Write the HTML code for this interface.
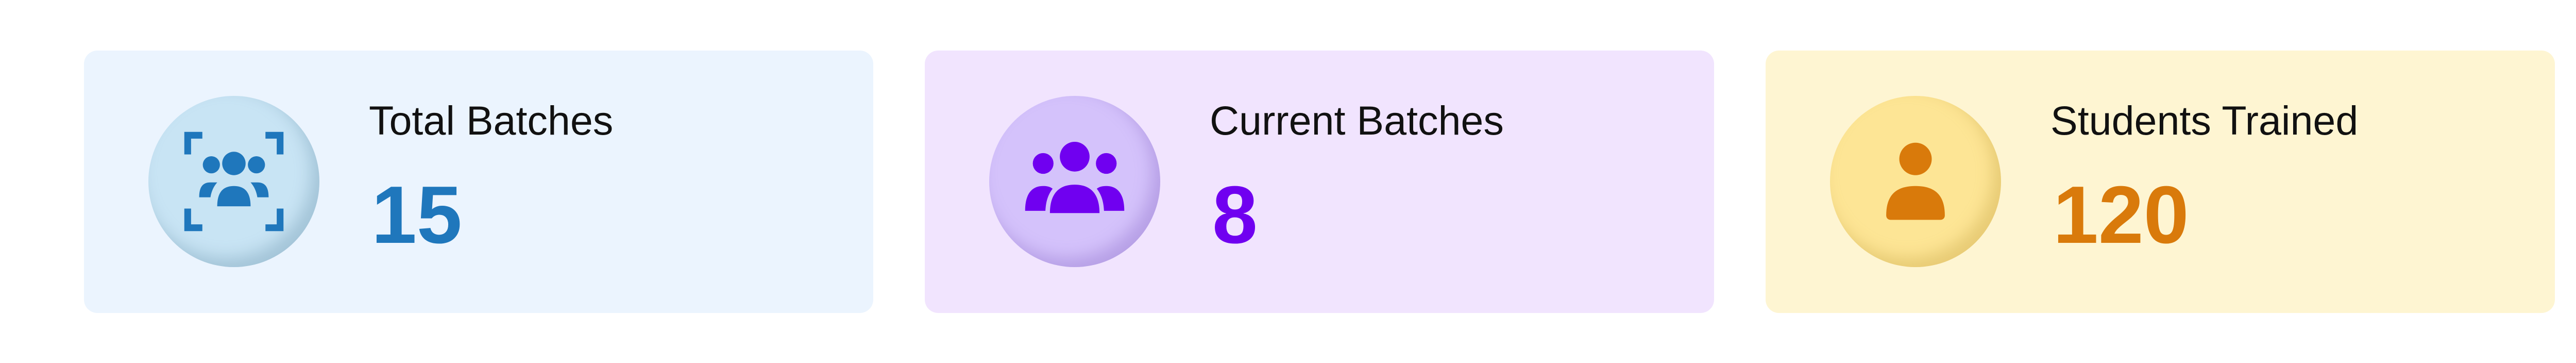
<!DOCTYPE html>
<html><head><meta charset="utf-8"><style>
html,body{margin:0;padding:0;background:#fff;}
body{width:5120px;height:704px;position:relative;overflow:hidden;font-family:"Liberation Sans",sans-serif;}
.card{position:absolute;top:98px;width:1532px;height:509px;border-radius:26px;}
.circ{position:absolute;left:125px;top:88px;width:332px;height:332px;border-radius:50%;}
.circ svg{position:absolute;left:61px;top:61px;width:210px;height:210px;}
.title{position:absolute;left:553px;top:90px;font-size:79px;color:#111;white-space:nowrap;}
.num{position:absolute;left:558px;top:240px;font-size:158px;font-weight:bold;line-height:1;}
</style></head><body>
<div class="card" style="left:163px;background:#ebf4fe;">
 <div class="circ" style="background:#c8e4f4;box-shadow:inset -16px -18px 30px rgba(110,150,175,0.4);">
  <svg viewBox="0 0 24 24" fill="#1f77bc"><path d="M1 1h4v1.5H2.5V6H1zM19 1h4v5h-1.5V2.5H19zM1 18h1.5v3.5H5V23H1zM21.5 18H23v5h-4v-1.5h2.5z"/><circle cx="12" cy="8" r="2.6"/><circle cx="7" cy="8.3" r="1.9"/><circle cx="17" cy="8.3" r="1.9"/><path d="M8.3 17.5c0-3 1.2-4.5 3.7-4.5s3.7 1.5 3.7 4.5z"/><path d="M4.3 15.5c0-2.3.8-3.3 2.5-3.3h1.5c-.8.9-1.300 2-1.5 3.3zM19.7 15.5c0-2.3-.8-3.3-2.5-3.3h-1.5c.8.9 1.3 2 1.5 3.3z"/></svg>
 </div>
 <div class="title">Total Batches</div>
 <div class="num" style="color:#1f77bc;">15</div>
</div>
<div class="card" style="left:1795px;background:#f1e4fe;">
 <div class="circ" style="background:#d4c2fb;box-shadow:inset -16px -18px 30px rgba(140,110,200,0.4);">
  <svg viewBox="0 0 24 24" fill="#7000f0"><circle cx="12" cy="6.5" r="3.3"/><circle cx="5" cy="8" r="2.3"/><circle cx="19" cy="8" r="2.3"/><path d="M6.5 19c0-4.3 2-6.3 5.5-6.3s5.5 2 5.5 6.3z"/><path d="M1 18.5c0-3.5 1.3-5.5 4-5.5 1 0 1.6.2 2.1.6C6 15 5.6 16.6 5.5 18.5zM23 18.5c0-3.5-1.3-5.5-4-5.5-1 0-1.6.2-2.1.6 1.1 1.4 1.5 3 1.6 4.9z"/></svg>
 </div>
 <div class="title">Current Batches</div>
 <div class="num" style="color:#7000f0;">8</div>
</div>
<div class="card" style="left:3427px;background:#fef5d2;">
 <div class="circ" style="background:#fde595;box-shadow:inset -16px -18px 30px rgba(200,165,70,0.4);">
  <svg viewBox="0 0 24 24" fill="#d97a0b"><circle cx="12" cy="7" r="3.6"/><path d="M5.5 19.5c0-4.5 2.2-6.5 6.5-6.5s6.5 2 6.5 6.5c0 .6-.4 1-1 1h-11c-.6 0-1-.4-1-1z"/></svg>
 </div>
 <div class="title">Students Trained</div>
 <div class="num" style="color:#d97a0b;">120</div>
</div>
</body></html>
